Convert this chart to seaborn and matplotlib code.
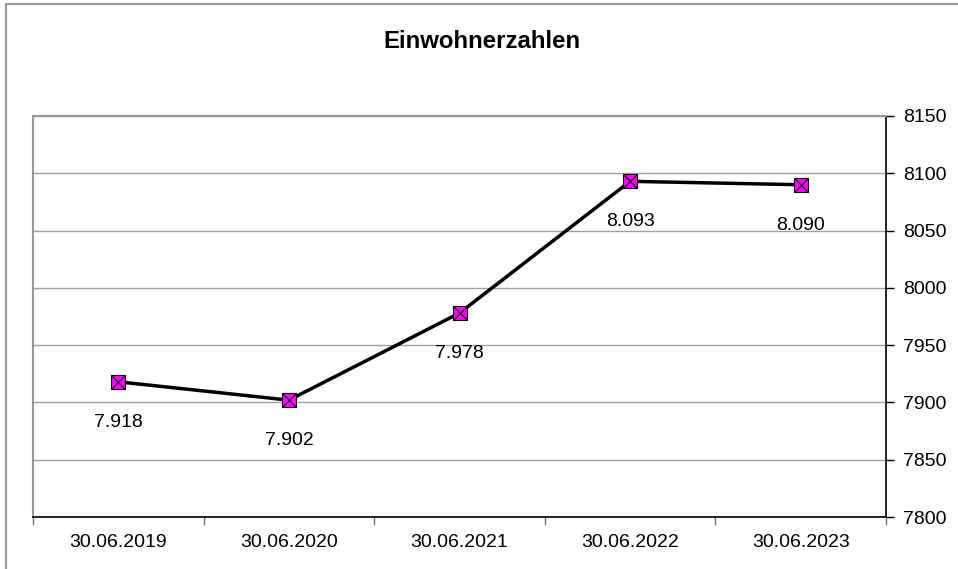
import numpy as np
import pandas as pd
import seaborn as sns
import matplotlib.pyplot as plt
from matplotlib.patches import Rectangle

dates = ['30.06.2019', '30.06.2020', '30.06.2021', '30.06.2022', '30.06.2023']
einwohner = [7918, 7902, 7978, 8093, 8090]

df = pd.DataFrame({'pos': np.arange(len(dates)), 'Einwohner': einwohner})

sns.set_style('white')
plt.rcParams['font.family'] = ['Liberation Sans', 'DejaVu Sans']
plt.rcParams['text.color'] = 'black'
plt.rcParams['xtick.color'] = 'black'
plt.rcParams['ytick.color'] = 'black'

fig = plt.figure(figsize=(9.58, 5.69), dpi=100)
# outer chart border (cut off right and bottom like the original)
fig.patches.append(Rectangle((6/958, -0.1), 1.1, 1 - 4/569 + 0.1, transform=fig.transFigure,
                             fill=False, edgecolor='#999999', linewidth=1.5))
ax = fig.add_axes([33/958, 1 - 517/569, (886 - 33)/958, (517 - 116)/569])

sns.lineplot(data=df, x='pos', y='Einwohner', color='black', linewidth=2.5, ax=ax, zorder=3)
ax.scatter(df['pos'], df['Einwohner'], marker='s', s=110, color='#ff00ff',
           edgecolor='black', linewidth=0.8, zorder=4)
ax.scatter(df['pos'], df['Einwohner'], marker='x', s=90, color='black', linewidth=0.8, zorder=5)

for x, v in zip(df['pos'], einwohner):
    ax.annotate(f'{v/1000:.3f}', (x, v), xytext=(0, -23), textcoords='offset points',
                ha='center', va='top', fontsize=14)

ax.set_xlim(-0.5, len(dates) - 0.5)
ax.set_ylim(7800, 8150)
ax.set_yticks(np.arange(7800, 8151, 50))
ax.yaxis.tick_right()
ax.grid(axis='y', color='#a0a0a0', linewidth=1)
ax.set_axisbelow(True)

ax.set_xticks(np.arange(len(dates)))
ax.set_xticklabels(dates)
ax.set_xticks(np.arange(-0.5, len(dates)), minor=True)
ax.tick_params(axis='x', which='major', length=0, labelsize=14, pad=12)
ax.tick_params(axis='x', which='minor', length=6, color='#777777', width=1, direction='out', bottom=True)
ax.tick_params(axis='y', length=6, width=1, color='black', direction='out', labelsize=14, pad=6, right=True)
ax.set_xlabel('')
ax.set_ylabel('')

for side in ['left', 'top']:
    ax.spines[side].set_color('#999999')
    ax.spines[side].set_linewidth(1.5)
for side in ['right', 'bottom']:
    ax.spines[side].set_color('black')
    ax.spines[side].set_linewidth(1.2)

fig.text(482/958, 1 - 42/569, 'Einwohnerzahlen', ha='center', va='center',
         fontsize=17.3, fontweight='bold')

fig.savefig('out.png', dpi=100)
